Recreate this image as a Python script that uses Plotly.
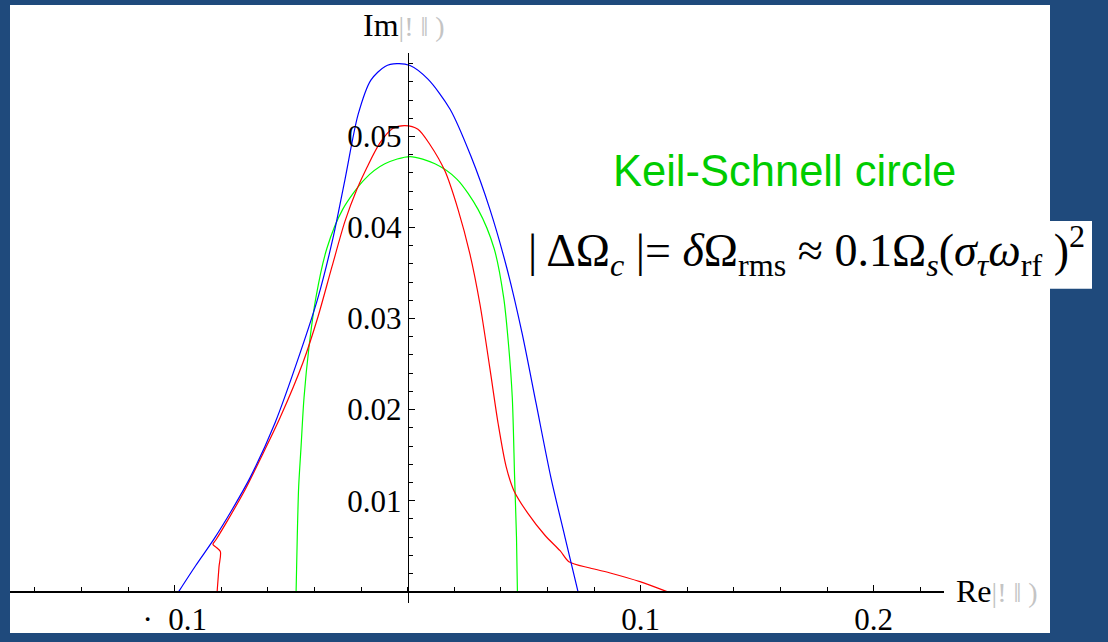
import plotly.graph_objects as go

# ---- data (Re, Im) ----
blue_re = [-0.0983, -0.0909, -0.0831, -0.0754, -0.0677, -0.0570, -0.0462, -0.0385, -0.0321,
           -0.0269, -0.0213, -0.0158, -0.0097, -0.0046, 0.0010, 0.0087, 0.0182, 0.0272,
           0.0353, 0.0426, 0.0491, 0.0551, 0.0615, 0.0675, 0.0731]
blue_im = [0.0, 0.0029, 0.0058, 0.0090, 0.0125, 0.0185, 0.0262, 0.0323, 0.0388,
           0.0453, 0.0524, 0.0562, 0.0577, 0.0580, 0.0578, 0.0563, 0.0530, 0.0478,
           0.0420, 0.0355, 0.0284, 0.0207, 0.0125, 0.0060, 0.0]

red_re = [-0.0818, -0.0810, -0.0804, -0.0823, -0.0836, -0.0823, -0.0769, -0.0698, -0.0634,
          -0.0548, -0.0449, -0.0385, -0.0325, -0.0269, -0.0218, -0.0175, -0.0119, -0.0063,
          -0.0012, 0.0044, 0.0096, 0.0160, 0.0216, 0.0267, 0.0310, 0.0353, 0.0388, 0.0422,
          0.0456, 0.0516, 0.0589, 0.0654, 0.0692, 0.0782, 0.0877, 0.0997, 0.1113]
red_im = [0.0, 0.0027, 0.0044, 0.0049, 0.0052, 0.0057, 0.0080, 0.0112, 0.0145,
          0.0191, 0.0252, 0.0302, 0.0357, 0.0407, 0.0442, 0.0466, 0.0493, 0.0509,
          0.0512, 0.0508, 0.0491, 0.0462, 0.0420, 0.0371, 0.0316, 0.0245, 0.0185, 0.0138,
          0.0111, 0.0086, 0.0062, 0.0045, 0.0033, 0.0026, 0.0020, 0.0011, 0.0]

green_re = [-0.0479, -0.0474, -0.0468, -0.0458, -0.0445, -0.0424, -0.0394, -0.0347, -0.0279,
            -0.0185, -0.0098, 0.0010, 0.0117, 0.0212, 0.0302, 0.0371, 0.0412, 0.0434,
            0.0449, 0.0459, 0.0467, 0.0471]
green_im = [0.0, 0.0060, 0.0115, 0.0158, 0.0213, 0.0268, 0.0323, 0.0377, 0.0420,
            0.0453, 0.0470, 0.0478, 0.0470, 0.0453, 0.0420, 0.0377, 0.0323, 0.0268,
            0.0213, 0.0125, 0.0060, 0.0]

x_tick_vals = [-0.1, 0.1, 0.2]
x_tick_text = ["·  0.1", "0.1", "0.2"]
y_tick_vals = [0.01, 0.02, 0.03, 0.04, 0.05]
y_tick_text = ["0.01", "0.02", "0.03", "0.04", "0.05"]
x_minor = [round(-0.16 + 0.02 * i, 2) for i in range(20)]
y_minor = [round(0.002 * i, 3) for i in range(1, 30)]

BG = "#1F4A7C"
W, H = 1108, 642
ML, MR, MT, MB = 10, 58, 5, 6
PW, PH = W - ML - MR, H - MT - MB


def px(xp):
    return (xp - ML) / PW


def py(yp):
    return (H - MB - yp) / PH


fig = go.Figure()
for xs, ys, col in [(green_re, green_im, "#00FF00"), (red_re, red_im, "#FF0000"),
                    (blue_re, blue_im, "#0000FF")]:
    fig.add_trace(go.Scatter(x=xs, y=ys, mode="lines",
                             line=dict(color=col, width=1.2, shape="spline", smoothing=0.8),
                             hoverinfo="skip", showlegend=False))

serif = "Liberation Serif, Times New Roman, serif"

fig.update_layout(
    width=W, height=H,
    margin=dict(l=ML, r=MR, t=MT, b=MB),
    paper_bgcolor=BG, plot_bgcolor="white",
    showlegend=False,
    xaxis=dict(domain=[0, px(944)], range=[-0.1707, 0.2302], anchor="free",
               position=py(594.5), showline=True, linecolor="black", linewidth=1.5,
               showgrid=False, zeroline=False, ticks="inside", ticklen=6, tickwidth=1,
               tickcolor="black", tickvals=x_tick_vals, ticktext=x_tick_text,
               tickfont=dict(family=serif, size=31, color="black"),
               minor=dict(tickvals=x_minor, ticks="inside", ticklen=4, tickcolor="black"),
               fixedrange=True),
    yaxis=dict(domain=[py(606), py(53)], range=[-0.00126, 0.0592], anchor="free",
               position=px(407.7), showline=True, linecolor="black", linewidth=1.2,
               showgrid=False, zeroline=False, ticks="inside", ticklen=6, tickwidth=1,
               tickcolor="black", tickvals=y_tick_vals, ticktext=y_tick_text,
               tickfont=dict(family=serif, size=31, color="black"),
               minor=dict(tickvals=y_minor, ticks="inside", ticklen=4, tickcolor="black"),
               fixedrange=True),
    shapes=[
        dict(type="rect", xref="paper", yref="paper", x0=0, x1=1, y0=0, y1=1,
             fillcolor="white", line=dict(width=0), layer="below"),
        dict(type="rect", xref="paper", yref="paper", x0=px(1048), x1=px(1092),
             y0=py(290), y1=py(222), fillcolor="white", line=dict(width=0), layer="below"),
    ],
)

junk = "<span style='color:#c4c4c4;font-size:28px'>|! ‖ )</span>"
fig.add_annotation(xref="paper", yref="paper", x=px(361), y=py(25), xanchor="left",
                   yanchor="middle", showarrow=False, text="Im" + junk,
                   font=dict(family=serif, size=32, color="black"))
fig.add_annotation(xref="paper", yref="paper", x=px(954), y=py(594), xanchor="left",
                   yanchor="middle", showarrow=False, text="Re" + junk,
                   font=dict(family=serif, size=32, color="black"))
fig.add_annotation(xref="paper", yref="paper", x=px(784), y=py(172), xanchor="center",
                   yanchor="middle", showarrow=False, text="Keil-Schnell circle",
                   font=dict(family="Liberation Sans, Arial, sans-serif", size=43.5,
                             color="#00CC00"))
eq = ("| ΔΩ<sub><i>c</i></sub> |= <i>δ</i>Ω<sub>rms</sub> ≈ 0.1Ω<sub><i>s</i></sub>"
      "(<i>σ</i><sub><i>τ</i></sub><i>ω</i><sub>rf</sub> )<sup>2</sup>")
fig.add_annotation(xref="paper", yref="paper", x=px(526), y=py(252), xanchor="left",
                   yanchor="middle", showarrow=False, text=eq,
                   font=dict(family=serif, size=46, color="black"))

fig.write_html("out.html")
